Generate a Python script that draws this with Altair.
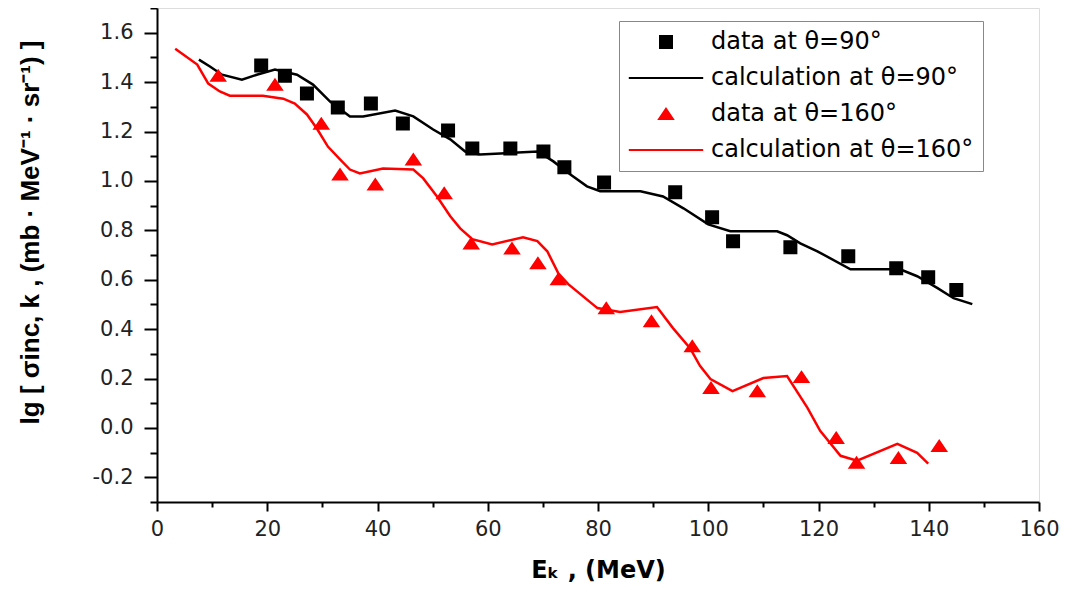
import altair as alt
import pandas as pd

# ---- data ----
data90_E = [18.9, 23.2, 27.2, 32.8, 38.8, 44.6, 52.8, 57.2, 64.1, 70.1, 73.9, 81.1,
            94.0, 100.7, 104.5, 114.9, 125.4, 134.1, 139.9, 145.0]
data90_lg = [1.467, 1.426, 1.354, 1.297, 1.313, 1.232, 1.204, 1.131, 1.131, 1.119, 1.055, 0.994,
             0.954, 0.853, 0.756, 0.731, 0.695, 0.646, 0.610, 0.558]

data160_E = [11.1, 21.4, 29.8, 33.2, 39.6, 46.5, 52.1, 57.0, 64.4, 69.1, 72.8, 81.5, 89.7,
             97.1, 100.5, 108.9, 116.9, 123.2, 126.9, 134.5, 141.9]
data160_lg = [1.426, 1.390, 1.232, 1.026, 0.986, 1.087, 0.950, 0.747, 0.727, 0.667, 0.602, 0.485,
              0.432, 0.331, 0.162, 0.149, 0.206, -0.040, -0.141, -0.121, -0.073]

calc90_E = [7.6, 9.6, 11.8, 15.4, 18.1, 21.4, 25.4, 28.3, 31.4, 35.0, 37.4, 43.2, 46.5, 50.1,
            53.2, 55.9, 58.6, 62.3, 69.1, 71.9, 75.0, 78.0, 80.4, 87.7, 91.8, 95.5, 100.0,
            104.0, 112.5, 114.3, 116.7, 119.8, 125.8, 134.8, 137.9, 141.6, 144.5, 147.9]
calc90_lg = [1.491, 1.463, 1.430, 1.410, 1.430, 1.451, 1.430, 1.390, 1.321, 1.261, 1.261, 1.285,
             1.261, 1.208, 1.168, 1.119, 1.107, 1.111, 1.119, 1.079, 1.026, 0.978, 0.958, 0.958,
             0.937, 0.889, 0.824, 0.796, 0.796, 0.780, 0.747, 0.715, 0.642, 0.642, 0.614, 0.566,
             0.525, 0.501]

calc160_E = [3.3, 7.3, 9.3, 11.4, 13.2, 19.2, 22.9, 25.0, 27.2, 29.0, 31.0, 33.2, 35.0, 36.8,
             41.0, 46.5, 48.3, 50.8, 53.2, 55.0, 57.2, 60.8, 66.4, 69.0, 70.8, 72.8, 74.6, 79.9,
             84.0, 90.7, 93.6, 96.7, 98.5, 100.4, 104.4, 110.0, 114.3, 118.0, 120.3, 124.0,
             127.0, 134.3, 137.9, 139.9]
calc160_lg = [1.535, 1.471, 1.394, 1.362, 1.345, 1.345, 1.333, 1.313, 1.269, 1.212, 1.139, 1.087,
              1.046, 1.030, 1.050, 1.046, 1.010, 0.937, 0.857, 0.808, 0.764, 0.743, 0.772, 0.756,
              0.715, 0.626, 0.582, 0.485, 0.469, 0.489, 0.404, 0.323, 0.251, 0.198, 0.149, 0.202,
              0.210, 0.081, -0.012, -0.113, -0.133, -0.065, -0.101, -0.145]

series_names = ["data at θ=90°", "calculation at θ=90°", "data at θ=160°", "calculation at θ=160°"]
series_colors = ["#000000", "#000000", "#ff0000", "#ff0000"]
x_ticks = list(range(0, 161, 10))
y_ticks = [round(-0.3 + 0.1 * i, 1) for i in range(21)]

# ---- tables ----
pts = pd.concat([
    pd.DataFrame({"E": data90_E, "lg": data90_lg, "series": series_names[0]}),
    pd.DataFrame({"E": data160_E, "lg": data160_lg, "series": series_names[2]}),
], ignore_index=True)
calc90 = pd.DataFrame({"E": calc90_E, "lg": calc90_lg})
calc160 = pd.DataFrame({"E": calc160_E, "lg": calc160_lg})

FONT = "DejaVu Sans, Arial, sans-serif"
TFONT = "Liberation Sans, Arial, sans-serif"
SQUARE = "M-1,-1H1V1H-1Z"
TRI = "M0,-0.85L1.15,0.85L-1.15,0.85Z"
LINE = "M-6.2,0H6.2"
series_shapes = [SQUARE, LINE, TRI, LINE]

x_enc = alt.X(
    "E:Q",
    scale=alt.Scale(domain=[0, 160], nice=False, zero=False),
    axis=alt.Axis(
        values=x_ticks,
        labelExpr="datum.value % 20 == 0 ? datum.label : ''",
        tickSize={"condition": {"test": "datum.value % 20 == 0", "value": 9}, "value": 5},
        tickWidth=2, tickColor="black", domainWidth=2, domainColor="black",
        labelFont=FONT, labelFontSize=21, labelColor="#222222", labelPadding=7,
        labelFlush=False, labelOverlap=False, grid=False,
        title="Eₖ ,  (MeV)", titleFont="DejaVu Sans, Arial, sans-serif", titleFontSize=24,
        titleFontWeight="bold", titleColor="black", titleBaseline="alphabetic", titleY=75,
    ),
)
y_enc = alt.Y(
    "lg:Q",
    scale=alt.Scale(domain=[-0.3, 1.7], nice=False, zero=False),
    axis=alt.Axis(
        values=y_ticks,
        labelExpr="abs(round(datum.value*10)) % 2 == 0 ? replace(format(datum.value, '.1f'), '\u2212', '-') : ''",
        tickSize={"condition": {"test": "abs(round(datum.value*10)) % 2 == 0", "value": 13}, "value": 7},
        tickWidth=2, tickColor="black", domainWidth=2, domainColor="black",
        labelFont=FONT, labelFontSize=21, labelColor="#222222", labelPadding=11,
        labelFlush=False, labelOverlap=False, grid=False,
        title="lg [ σinc, k ,  (mb · MeV⁻¹ · sr⁻¹) ]", titleFont=TFONT, titleFontSize=26,
        titleFontWeight="bold", titleColor="black", titleAngle=270,
        titleBaseline="alphabetic", titleAlign="center", titleX=-119, titleY=224,
    ),
)

legend = alt.Legend(
    title=None, orient="none", legendX=462, legendY=13,
    labelFont=FONT, labelFontSize=24, labelColor="black", labelLimit=500,
    labelOffset=33, symbolOffset=26, symbolSize=144, symbolStrokeWidth=2,
    padding=9, rowPadding=12, strokeColor="#888888", fillColor="white",
)

points = alt.Chart(pts).mark_point(filled=True, size=144, strokeWidth=2, opacity=1).encode(
    x=x_enc, y=y_enc,
    fill=alt.Fill("series:N", scale=alt.Scale(domain=series_names, range=series_colors), legend=legend),
    stroke=alt.Stroke("series:N", scale=alt.Scale(domain=series_names, range=series_colors), legend=legend),
    shape=alt.Shape("series:N", scale=alt.Scale(domain=series_names, range=series_shapes), legend=legend),
)

line90 = alt.Chart(calc90).mark_line(color="black", strokeWidth=2.5).encode(x=x_enc, y=y_enc)
line160 = alt.Chart(calc160).mark_line(color="#ff0000", strokeWidth=2.5).encode(x=x_enc, y=y_enc)

chart = alt.layer(line90, line160, points).properties(
    width=882, height=494,
    padding={"left": 149, "top": 0, "right": 20, "bottom": 80},
    autosize=alt.AutoSizeParams(type="none"),
).configure_view(stroke=None).configure(background="white")

chart.save("out.html", embed_options={"renderer": "svg", "actions": False})
